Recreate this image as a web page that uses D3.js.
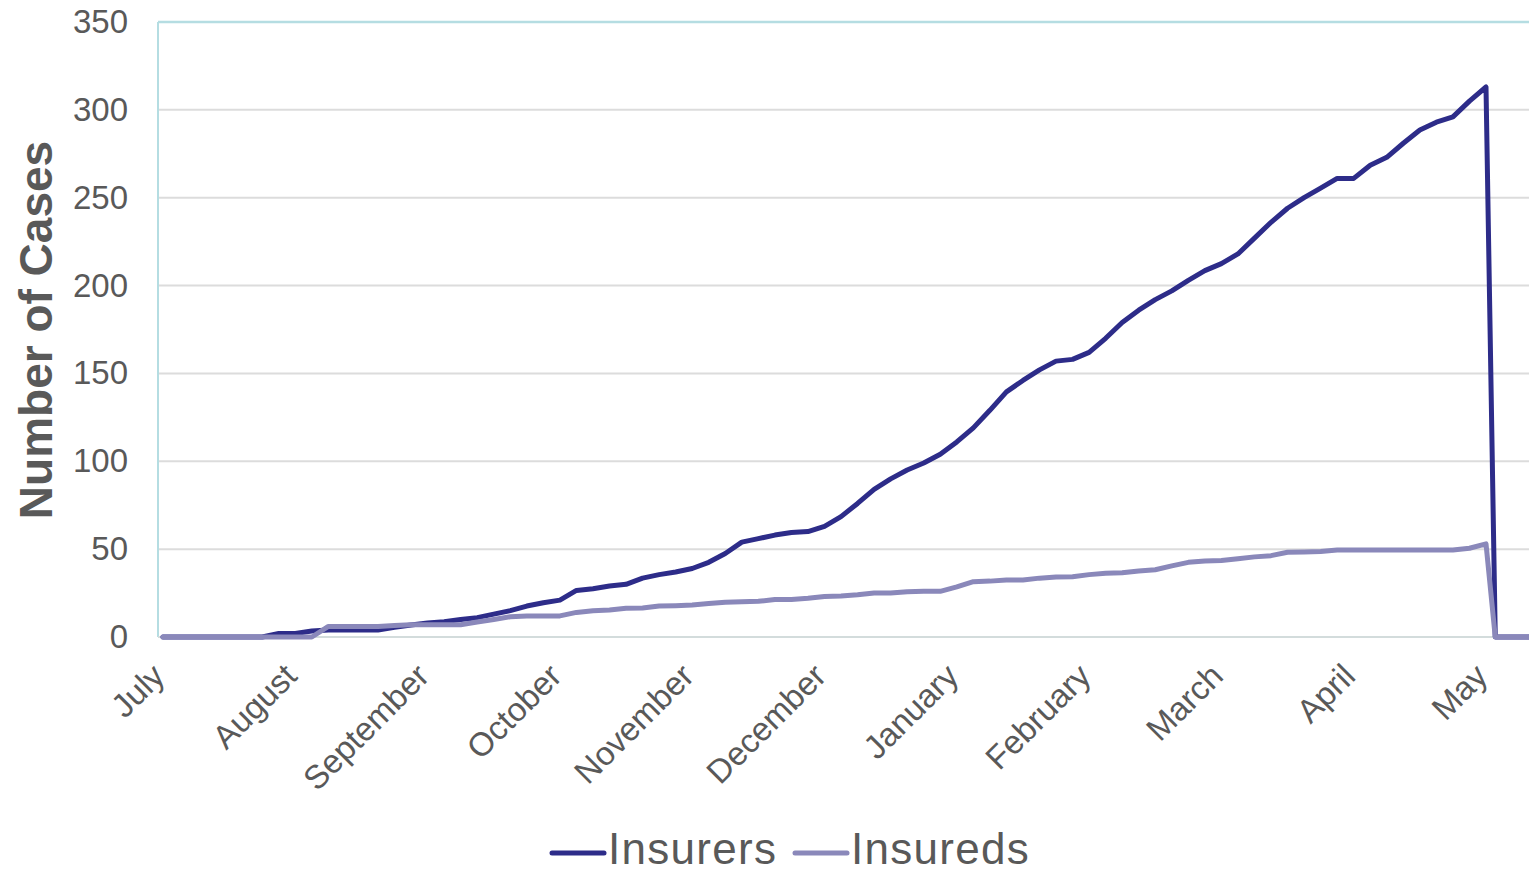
<!DOCTYPE html>
<html>
<head>
<meta charset="utf-8">
<script src="https://cdn.jsdelivr.net/npm/d3@7"></script>
<style>
  body { margin: 0; background: #fff; }
  svg { display: block; font-family: "Liberation Sans", Arial, sans-serif; }
</style>
</head>
<body>
<svg id="chart" width="1529" height="874"></svg>
<script>
// month labels on the category axis
const months = ['July', 'August', 'September', 'October', 'November', 'December',
  'January', 'February', 'March', 'April', 'May'];

// cumulative cases, sampled 8 times per month starting at July
const insurers = [
  0, 0, 0, 0, 0, 0, 0, 2,
  2, 3.4, 4, 4, 4, 4, 5.5, 6.8,
  8, 8.7, 10, 11, 13, 15, 17.6, 19.5,
  21, 26.5, 27.5, 29, 30, 33.5, 35.5, 37,
  39, 42.5, 47.5, 54, 56, 58, 59.5, 60,
  63, 68.5, 76, 84, 90, 95, 99, 104,
  111, 119, 129, 139.5, 146, 152, 157, 158,
  162, 170, 179, 186, 192, 197, 203, 208.5,
  212.5, 218, 227, 236, 244, 250, 255.5, 261,
  261, 268.5, 273, 281, 288.5, 293, 296, 305,
  313
];
const insureds = [
  0, 0, 0, 0, 0, 0, 0, 0,
  0, 0, 6, 6, 6, 6, 6.5, 7,
  7, 7, 7, 8.5, 10, 11.5, 12, 12,
  12, 14, 15, 15.4, 16.3, 16.5, 17.6, 17.8,
  18.2, 19, 19.8, 20, 20.3, 21.4, 21.4, 22,
  23, 23.3, 24, 25, 25, 25.8, 26, 26,
  28.5, 31.5, 31.8, 32.4, 32.4, 33.5, 34.2, 34.3,
  35.5, 36.3, 36.6, 37.6, 38.3, 40.5, 42.5, 43.3,
  43.6, 44.5, 45.6, 46.3, 48.2, 48.4, 48.7, 49.5,
  49.5, 49.5, 49.5, 49.5, 49.5, 49.5, 49.5, 50.5,
  53
];
// after the last reading both series fall back to zero
const tail = [[10.07, 0], [10.33, 0]];
const yTicks = [0, 50, 100, 150, 200, 250, 300, 350];
const seriesNames = ['Insurers', 'Insureds'];
const seriesColors = ['#2d2c89', '#8a88ba'];

const svg = d3.select('#chart');
const plot = { left: 158, right: 1529, top: 22, bottom: 637 };

const x = d3.scaleLinear().domain([0, 10]).range([163, 1486]);
const y = d3.scaleLinear().domain([0, 350]).range([plot.bottom, plot.top]);

// gridlines
svg.append('g')
  .selectAll('line')
  .data(yTicks.filter(d => d > 0 && d < 350))
  .enter()
  .append('line')
  .attr('x1', plot.left).attr('x2', plot.right)
  .attr('y1', d => y(d)).attr('y2', d => y(d))
  .attr('stroke', '#dcdcdc')
  .attr('stroke-width', 2);

// frame: top and left in light cyan, baseline in grey
svg.append('line')
  .attr('x1', plot.left).attr('x2', plot.right)
  .attr('y1', y(350)).attr('y2', y(350))
  .attr('stroke', '#b5dde2').attr('stroke-width', 2.5);
svg.append('line')
  .attr('x1', plot.left).attr('x2', plot.left)
  .attr('y1', y(350)).attr('y2', y(0))
  .attr('stroke', '#b5dde2').attr('stroke-width', 2);
svg.append('line')
  .attr('x1', plot.left).attr('x2', plot.right)
  .attr('y1', y(0)).attr('y2', y(0))
  .attr('stroke', '#d3dcdc').attr('stroke-width', 2);

// y axis labels
const yAxis = svg.append('g')
  .attr('transform', `translate(128,0)`)
  .call(d3.axisLeft(y).tickValues(yTicks).tickSize(0).tickPadding(0));
yAxis.select('.domain').remove();
yAxis.selectAll('text')
  .attr('fill', '#595959')
  .style('font-size', '33px')
  .style('font-family', '"Liberation Sans", Arial, sans-serif');

svg.append('text')
  .attr('transform', `translate(52,330) rotate(-90)`)
  .attr('text-anchor', 'middle')
  .attr('fill', '#595959')
  .style('font-size', '46px')
  .style('font-weight', 'bold')
  .text('Number of Cases');

// x axis labels, rotated
const xAxis = svg.append('g')
  .attr('transform', `translate(0,${plot.bottom})`)
  .call(d3.axisBottom(x).tickValues(d3.range(months.length))
    .tickFormat(i => months[i]).tickSize(0).tickPadding(0));
xAxis.select('.domain').remove();
xAxis.selectAll('text')
  .attr('fill', '#595959')
  .style('font-size', '33px')
  .style('font-family', '"Liberation Sans", Arial, sans-serif')
  .attr('text-anchor', 'end')
  .attr('dy', '0')
  .attr('transform', 'translate(3,41) rotate(-45)');

// lines
const line = d3.line()
  .x(d => x(d[0]))
  .y(d => y(d[1]));

const toPoints = vals => vals.map((v, i) => [i / 8, v]).concat(tail);

[insurers, insureds].forEach((vals, i) => {
  svg.append('path')
    .datum(toPoints(vals))
    .attr('fill', 'none')
    .attr('stroke', seriesColors[i])
    .attr('stroke-width', 5)
    .attr('stroke-linejoin', 'round')
    .attr('stroke-linecap', 'round')
    .attr('d', line);
});

// legend
const legend = svg.append('g');
const legendItems = [
  { name: seriesNames[0], color: seriesColors[0], x: 552 },
  { name: seriesNames[1], color: seriesColors[1], x: 795 }
];
legendItems.forEach(d => {
  legend.append('line')
    .attr('x1', d.x).attr('x2', d.x + 52)
    .attr('y1', 853).attr('y2', 853)
    .attr('stroke', d.color)
    .attr('stroke-width', 5)
    .attr('stroke-linecap', 'round');
  legend.append('text')
    .attr('x', d.x + 56)
    .attr('y', 864)
    .attr('fill', '#595959')
    .style('font-size', '44px')
    .style('letter-spacing', '1.3px')
    .text(d.name);
});
</script>
</body>
</html>
